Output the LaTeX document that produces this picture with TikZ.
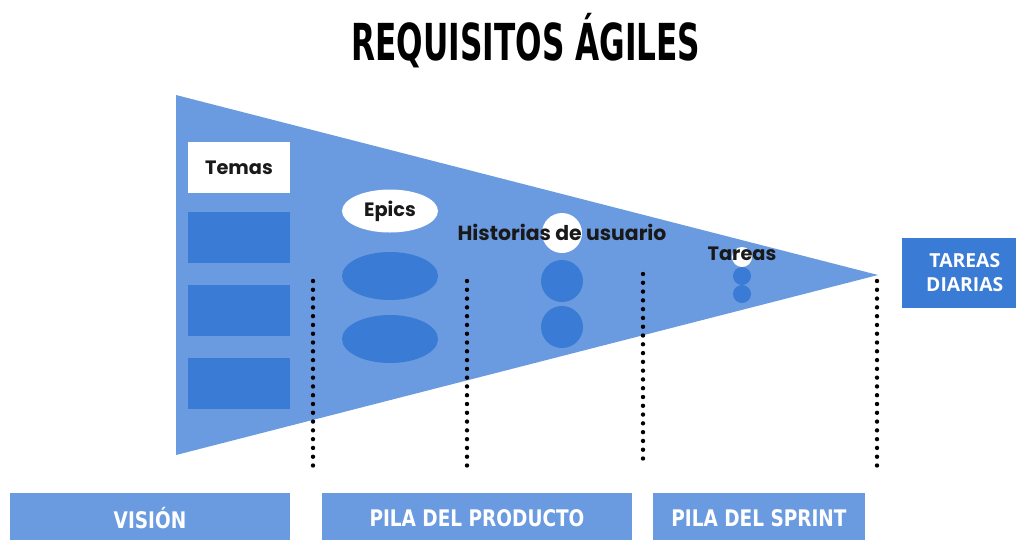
\documentclass[tikz,border=0pt]{standalone}
\usepackage{fontspec}
\usepackage{graphicx}
\setmainfont{Poppins}
\newfontfamily\titlefont{DejaVu Sans Condensed}
\newfontfamily\boxfont{Open Sans}
\usetikzlibrary{shapes.geometric}

\definecolor{lightblue}{HTML}{6A9BE0}
\definecolor{darkblue}{HTML}{3A7BD5}

\newcommand{\narrowtext}[1]{\scalebox{0.9}[1]{#1}}

\begin{document}
\begin{tikzpicture}[
        x=0.02cm, y=-0.02cm,
        themebox/.style={
            rectangle,
            fill=darkblue,
            minimum width=2.04cm,
            minimum height=1.02cm,
            inner sep=0pt},
        epicshape/.style={
            ellipse,
            fill=darkblue,
            minimum width=1.92cm,
            minimum height=0.96cm,
            inner sep=0pt},
        storydot/.style={
            circle,
            fill=darkblue,
            minimum size=0.84cm,
            inner sep=0pt},
        taskdot/.style={
            circle,
            fill=darkblue,
            minimum size=0.36cm,
            inner sep=0pt},
        stagebox/.style={
            rectangle,
            fill=lightblue,
            text=white,
            minimum height=1cm,
            inner sep=0pt,
            font=\titlefont\bfseries\fontsize{13}{14}\selectfont},
        labeltext/.style={
            font=\bfseries\fontsize{11}{12}\selectfont,
            text=black!90},
        dotline/.style={
            line width=2.5pt,
            line cap=round,
            dash pattern=on 0pt off 5pt}
        ]

        \useasboundingbox (0,0) rectangle (1016,539);

        % title
        \node [anchor=base] (title) at (526,60)
            {\titlefont\bfseries\fontsize{29}{30}\selectfont\scalebox{0.68}[1]{REQUISITOS ÁGILES}};

        % funnel
        \fill[lightblue] (176,95) -- (878,275) -- (176,455) -- cycle;

        % temas
        \node [themebox, fill=white, labeltext] (temas) at (239,167.5) {Temas};
        \node [themebox] (tema1) at (239,237.5) {};
        \node [themebox] (tema2) at (239,310.5) {};
        \node [themebox] (tema3) at (239,383.5) {};

        % epics
        \node [epicshape, fill=white, minimum height=0.86cm, labeltext] (epics) at (390,211) {Epics};
        \node [epicshape] (epic1) at (390,276) {};
        \node [epicshape] (epic2) at (390,339) {};

        % historias de usuario
        \node [storydot, fill=white, minimum size=0.8cm] (story0) at (562,233) {};
        \node [labeltext, font=\bfseries\fontsize{11.6}{12}\selectfont] (historias) at (562,232) {Historias de usuario};
        \node [storydot] (story1) at (562,281) {};
        \node [storydot] (story2) at (562,327) {};

        % tareas
        \node [taskdot, fill=white, minimum size=0.4cm] (task0) at (742,257) {};
        \node [labeltext] (tareas) at (742,254) {Tareas};
        \node [taskdot] (task1) at (742,276) {};
        \node [taskdot] (task2) at (742,294) {};

        % tareas diarias
        \node [rectangle, fill=darkblue, text=white, align=center,
               minimum width=2.3cm, minimum height=1.4cm, inner sep=0pt,
               font=\boxfont\bfseries\fontsize{11}{14}\selectfont]
               (diarias) at (959.5,272.5) {\hspace{6pt}TAREAS\\\hspace{6pt}DIARIAS};

        % dotted separators
        \coordinate (sep1top) at (313,281);
        \coordinate (sep1bot) at (313,466);
        \coordinate (sep2top) at (467,281);
        \coordinate (sep2bot) at (467,466);
        \coordinate (sep3top) at (643,274);
        \coordinate (sep3bot) at (643,463);
        \coordinate (sep4top) at (877,281);
        \coordinate (sep4bot) at (877,466);
        \draw[dotline] (sep1top) -- (sep1bot);
        \draw[dotline] (sep2top) -- (sep2bot);
        \draw[dotline] (sep3top) -- (sep3bot);
        \draw[dotline] (sep4top) -- (sep4bot);

        % stages
        \node [stagebox, minimum width=5.6cm] (vision) at (150,518) {\narrowtext{VISIÓN}};
        \node [stagebox, minimum width=6.2cm] (producto) at (477,518) {\narrowtext{PILA DEL PRODUCTO}};
        \node [stagebox, minimum width=4.24cm] (sprint) at (759,518) {\narrowtext{PILA DEL SPRINT}};

\end{tikzpicture}
\end{document}
